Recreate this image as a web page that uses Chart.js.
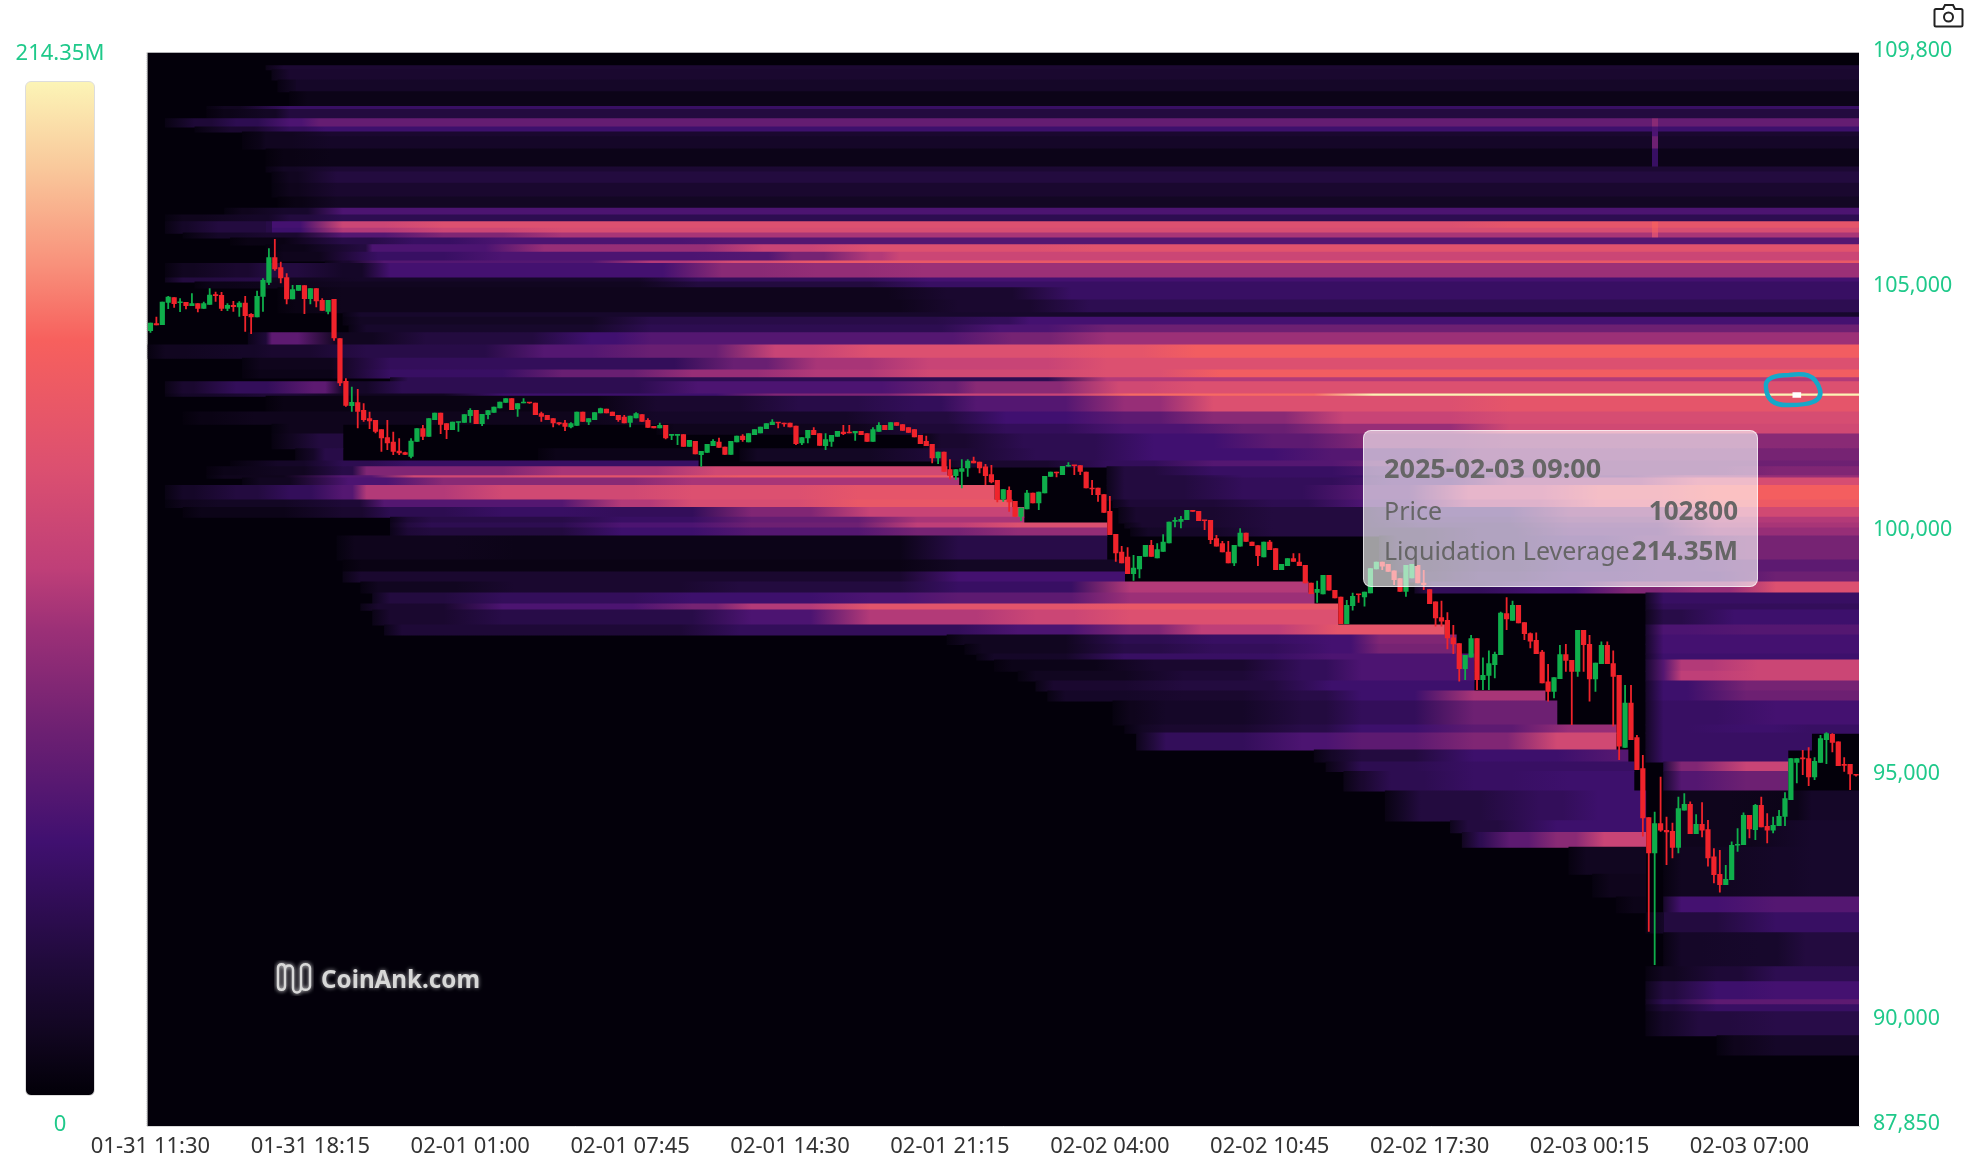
<!DOCTYPE html>
<html><head><meta charset="utf-8">
<style>
html,body{margin:0;padding:0;background:#fff;width:1968px;height:1167px;overflow:hidden;font-family:"Noto Sans",sans-serif}
#wrap{position:relative;width:1968px;height:1167px}
canvas{position:absolute;left:0;top:0}
.abs{position:absolute;white-space:nowrap}
.scaleText{color:#1fc98a;font-size:22px;line-height:24px;text-align:center;width:120px;left:0}
#colorbar{position:absolute;left:25px;top:81px;width:70px;height:1015px;border-radius:6px;border:0.5px solid #ddd;box-sizing:border-box}
#tip{position:absolute;left:1363px;top:430px;width:395px;height:157px;box-sizing:border-box;border-radius:8px;background:rgba(255,255,255,.62);border:1.5px solid rgba(255,255,255,.65);color:#666;font-size:25px}
#tip div{position:absolute;left:20px;right:19px;display:flex;justify-content:space-between;line-height:30px}
#tip b{font-weight:700;font-size:26px}
#tip b.d{font-size:27px}
#mark{left:321px;top:962px;color:#d8d8d8;font:700 24.2px "Noto Sans",sans-serif;text-shadow:0 0 4px rgba(255,255,255,.6)}
</style></head><body>
<div id="wrap">
<canvas id="c" width="1968" height="1167"></canvas>
<div class="abs scaleText" style="top:39px">214.35M</div>
<div id="colorbar"></div>
<div class="abs scaleText" style="top:1110px">0</div>
<div id="mark" class="abs">CoinAnk.com</div>
<svg class="abs" style="left:274px;top:960px" width="40" height="36" viewBox="0 0 40 36"><path d="M4 8c0-5 7-5 7 0v18c0 5-7 5-7 0zM11 10c0-6 8-6 8 0v18c0 6 8 6 8 0V8c0-5 9-5 9 0v18c0 5-9 5-9 0" fill="none" stroke="#d8d8d8" stroke-width="2.4" style="filter:drop-shadow(0 0 2px #fff)"/></svg>
<svg class="abs" style="left:1750px;top:360px" width="90" height="60" viewBox="1750 360 90 60"><path d="M1766 388C1764 378 1775 375 1789 375C1803 373 1815 373 1820 390C1823 402 1808 405 1790 405C1775 406 1767 400 1766 388Z" fill="none" stroke="#16a8c9" stroke-width="4.5"/></svg>
<svg class="abs" style="left:1933px;top:1px" width="31" height="28" viewBox="0 0 31 28"><path d="M3 8h7l2-4h8l2 4h6q1.500 0 1.500 1.500V24q0 1.500-1.500 1.500H3Q1.500 25.500 1.500 24V9.500Q1.500 8 3 8z" fill="none" stroke="#222" stroke-width="2"/><circle cx="15.500" cy="16" r="4.500" fill="none" stroke="#222" stroke-width="2"/></svg>
<div id="tip">
<div style="top:22px"><b class="d">2025-02-03 09:00</b></div>
<div style="top:64px"><span>Price</span><b>102800</b></div>
<div style="top:104px"><span>Liquidation Leverage</span><b>214.35M</b></div>
</div>
</div>
<script src="https://cdn.jsdelivr.net/npm/chart.js@4/dist/chart.umd.js"></script>
<script>
const tickCols=[0,27,54,81,108,135,162,189,216,243,270];
const tickLabels=['01-31 11:30','01-31 18:15','02-01 01:00','02-01 07:45','02-01 14:30','02-01 21:15','02-02 04:00','02-02 10:45','02-02 17:30','02-03 00:15','02-03 07:00'];
const priceTicks=[87850,90000,95000,100000,105000,109800];
const priceMin=87850, priceMax=109800, colCount=289;
const currentPoint={col:278,price:102800};

// open, high, low, close of each 15 minute candle
const ohlc=[
[104108,104279,104074,104279],[104265,104402,104224,104224],[104231,104708,104231,104708],[104688,104824,104558,104811],[104797,104797,104586,104661],[104681,104777,104497,104701],[104701,104701,104552,104620],[104620,104879,104620,104674],[104674,104674,104490,104565],[104565,104708,104565,104674],
[104647,104981,104647,104851],[104858,104913,104708,104824],[104845,104906,104517,104565],[104565,104674,104517,104640],[104640,104722,104504,104599],[104592,104715,104402,104688],[104688,104824,104095,104415],[104456,104470,104047,104388],[104388,104933,104388,104824],[104811,105185,104504,105151],
[105097,105799,105049,105615],[105615,105990,105342,105370],[105410,105526,105083,105185],[105206,105288,104654,104756],[104756,105049,104756,104961],[104933,105049,104933,105049],[105042,105042,104456,104763],[104763,104981,104654,104981],[104981,104981,104592,104715],[104742,104776,104524,104524],
[104504,104742,104449,104742],[104763,104763,103911,103958],[103958,103958,102984,103038],[103086,103140,102561,102581],[102575,102970,102459,102656],[102650,102922,102118,102459],[102493,102629,102254,102288],[102322,102459,102104,102261],[102288,102288,102015,102050],[102097,102097,101641,101913],
[101934,102288,101675,101811],[101845,102050,101572,101641],[101661,101913,101572,101607],[101627,101641,101572,101579],[101538,101913,101504,101866],[101845,102118,101845,102118],[102118,102186,101879,101947],[101947,102322,101947,102322],[102288,102438,102288,102438],[102438,102438,102002,102193],
[102220,102220,101900,102084],[102084,102254,102084,102254],[102234,102254,102050,102254],[102234,102404,102234,102404],[102370,102527,102234,102493],[102493,102493,102206,102206],[102206,102411,102166,102411],[102390,102486,102302,102486],[102438,102561,102438,102561],[102527,102663,102527,102663],
[102643,102731,102643,102731],[102731,102731,102493,102493],[102506,102629,102356,102629],[102629,102731,102629,102643],[102650,102650,102620,102629],[102643,102643,102390,102390],[102425,102459,102254,102356],[102391,102391,102288,102288],[102322,102322,102138,102220],[102241,102241,102180,102200],
[102234,102288,102063,102152],[102138,102241,102120,102220],[102173,102459,102173,102459],[102459,102459,102254,102254],[102241,102322,102186,102322],[102288,102445,102288,102445],[102425,102541,102425,102527],[102520,102520,102425,102425],[102459,102459,102370,102370],[102391,102391,102254,102288],
[102357,102391,102220,102220],[102234,102377,102138,102377],[102322,102445,102322,102425],[102404,102404,102254,102254],[102288,102322,102132,102132],[102166,102166,102118,102118],[102118,102234,102118,102186],[102186,102186,101893,101914],[101968,102002,101880,102002],[101968,102002,101777,102002],
[101995,101995,101743,101743],[101743,101879,101743,101879],[101859,101859,101586,101586],[101573,101654,101334,101654],[101620,101798,101620,101798],[101757,101893,101757,101859],[101845,101927,101723,101723],[101743,101743,101579,101579],[101579,101859,101579,101859],[101832,101968,101832,101968],
[101968,101995,101845,101879],[101832,102016,101832,102016],[101982,102098,101982,102098],[102016,102152,102016,102152],[102104,102220,102104,102220],[102186,102302,102186,102254],[102248,102248,102118,102220],[102234,102234,102152,102200],[102234,102234,102138,102138],[102173,102173,101777,101798],
[101811,101934,101777,101934],[101914,102084,101811,102084],[102084,102138,101982,101982],[102016,102016,101763,101763],[101757,102016,101675,101893],[101845,101982,101743,101982],[101948,102063,101948,102063],[102050,102186,101982,102002],[102036,102186,102016,102016],[102016,102063,101866,102063],
[102063,102063,101982,101982],[102016,102016,101845,101845],[101845,102139,101845,102098],[102050,102241,102050,102186],[102186,102186,102084,102084],[102084,102241,102084,102241],[102241,102241,102173,102173],[102200,102200,102070,102070],[102138,102138,102029,102029],[102098,102098,101934,101934],
[101982,101982,101798,101798],[101859,101968,101757,101757],[101798,101798,101402,101504],[101504,101641,101388,101641],[101641,101641,101232,101232],[101279,101484,101075,101143],[101143,101279,101061,101279],[101232,101485,100892,101301],[101301,101485,101130,101457],[101457,101539,101403,101403],
[101437,101437,101198,101301],[101335,101389,100960,101144],[101178,101369,100994,101014],[101062,101062,100605,100653],[100667,100871,100619,100871],[100857,100926,100414,100605],[100632,100632,100312,100312],[100312,100496,100223,100496],[100462,100857,100462,100803],[100803,100803,100585,100585],
[100585,100823,100448,100823],[100789,101144,100789,101144],[101130,101232,101130,101232],[101232,101232,101116,101198],[101164,101348,101164,101348],[101335,101423,101335,101369],[101369,101369,101164,101348],[101362,101362,101164,101232],[101232,101232,100892,100892],[100905,101062,100755,100871],
[100905,100905,100619,100755],[100769,100769,100394,100394],[100428,100735,99937,99937],[99958,99958,99392,99562],[99596,99712,99358,99358],[99494,99685,99140,99140],[99140,99528,99003,99269],[99235,99508,99051,99508],[99494,99733,99494,99733],[99733,99835,99494,99494],
[99460,99767,99460,99644],[99596,99951,99596,99801],[99767,100210,99767,100210],[100210,100298,100094,100244],[100210,100326,100073,100264],[100244,100448,100244,100448],[100448,100448,100414,100414],[100428,100428,100223,100223],[100244,100244,100039,100223],[100244,100244,99753,99835],
[99869,99937,99699,99699],[99767,99814,99583,99583],[99596,99814,99358,99358],[99358,99733,99303,99733],[99699,100073,99699,99985],[99985,99985,99801,99801],[99801,99801,99712,99712],[99726,99726,99303,99508],[99480,99801,99480,99801],[99801,99835,99630,99630],
[99664,99664,99221,99221],[99221,99344,99221,99344],[99303,99460,99303,99460],[99460,99562,99392,99392],[99392,99562,99303,99303],[99324,99324,98949,98949],[98962,98962,98730,98730],[98758,99003,98553,98833],[98724,99119,98724,99119],[99119,99119,98799,98799],
[98812,98812,98642,98642],[98676,98676,98117,98117],[98117,98608,98117,98506],[98485,98758,98390,98690],[98730,98730,98553,98710],[98662,98778,98472,98778],[98744,99256,98744,99256],[99235,99392,99235,99392],[99392,99392,99221,99290],[99344,99344,99187,99187],
[99208,99208,98915,99017],[99051,99051,98778,98778],[98778,99324,98676,99324],[99051,99344,99051,99344],[99324,99324,98949,98949],[98962,99221,98812,98915],[98826,98826,98526,98526],[98574,98574,98063,98233],[98253,98594,98063,98165],[98199,98356,97599,97824],
[97838,98097,97504,97701],[97722,97722,96938,97197],[97197,97483,96972,97483],[97429,97892,97429,97824],[97824,97824,96767,96972],[96972,97429,96767,97074],[97060,97572,96767,97313],[97279,97551,97006,97504],[97483,98369,97483,98349],[98335,98662,97994,98213],
[98185,98594,98185,98506],[98506,98506,98131,98131],[98151,98151,97790,97913],[97926,97940,97620,97756],[97790,97940,97504,97504],[97551,97585,96904,96904],[96938,97299,96529,96733],[96733,97026,96597,97026],[96992,97688,96992,97497],[97497,97708,97142,97367],
[97381,97381,96052,97142],[97142,97994,97040,97994],[97994,97994,97142,97688],[97708,97892,96529,96985],[96985,97326,96733,97326],[97299,97756,97299,97688],[97688,97756,97299,97299],[97313,97572,96018,97040],[97074,97074,95336,95609],[95588,96870,95588,96508],
[96508,96870,95745,95745],[95800,95847,95131,95131],[95166,95438,93768,94143],[94163,94163,91825,93427],[93427,94279,91143,94041],[94041,94995,93870,93891],[93904,94177,93188,93857],[93884,94054,93325,93543],[93543,94586,93427,94347],[94300,94654,94300,94436],
[94436,94484,93823,93823],[93823,94225,93823,94027],[94027,94470,93754,93891],[93918,94109,93155,93325],[93359,93529,92814,92984],[93004,93495,92623,92780],[92780,93189,92780,92902],[92882,93666,92882,93598],[93584,93938,93461,93618],[93598,94259,93598,94211],
[94211,94211,93734,93918],[93904,94436,93700,94416],[94416,94586,93959,93959],[93986,94245,93632,93891],[93891,94177,93836,94007],[93986,94313,93986,94191],[94177,94675,93986,94552],[94518,95370,94518,95370],[95281,95370,94859,95370],[95384,95540,95029,95350],
[95370,95595,94804,94981],[94981,95390,94927,95315],[95281,95847,95281,95779],[95745,95902,95254,95881],[95868,95881,95493,95690],[95711,95711,95213,95213],[95254,95390,95097,95220],[95254,95254,94722,95043],[95043,95043,95000,95016]
];

// heat bands: the price at the top of each band ...
const heatTops=[109530,109450,109240,109000,108700,108640,108450,108280,108180,108080,107830,107460,107360,107130,106850,106620,106480,106340,106210,106110,106010,105870,105720,105540,105490,105190,105110,104990,104740,104480,104390,104230,104070,103820,103550,103310,103150,103070,102820,102775,102450,102200,102000,101700,101450,101330,101150,101100,100950,100650,100500,100300,100180,100080,99916,99426,99180,98975,98750,98525,98400,98095,97890,97700,97500,97380,97150,96950,96745,96540,96050,95885,95540,95295,95100,94700,94090,93850,93550,93000,92535,92210,91800,91105,90800,90430,90330,90185,89695,89305];
// ... and, per band, pairs of [first column, heat in % of the 214.35M maximum]
const heatSegments=[
[20,11],[21,10],[22,7,24,8],[24,4],[10,6,24,22],[10,4,20,7,24,14],
[3,8,8,12,15,18,24,28,29,34,254,42,255,34],[8,6,14,10,24,20,30,24,254,28,255,24],[16,4,20,6,31,10,254,28,255,10],[16,4,20,6,31,8,254,36,255,8],[20,3,31,4,254,22,255,4],
[20,7,32,11],[21,6,32,14],[21,5,32,10],[22,3,32,7],[13,5,23,9,33,28],[3,5,18,8,24,14,33,18],
[3,8,12,14,20,16,21,26,33,56,50,62,230,66,254,72,255,66],[3,8,12,14,20,16,21,24,33,50,50,56,70,60,254,68,255,60],[6,5,12,8,20,10,33,30,50,40,70,48,254,60,255,48],
[14,3,33,16,45,22,60,28,100,30],[20,4,36,14,38,28,67,45,104,55,122,62,160,64],[20,5,39,22,60,28,102,30,109,38,122,50,127,56],[30,10,40,30,85,50,99,60,113,68],
[3,6,15,10,20,14,33,8,41,26,97,42,113,44,131,46],[3,14,19,16,21,6,36,8,93,20,132,26],[8,4,21,5,33,6,93,14,132,22],[22,3,33,5,135,10,156,22],[22,3,33,5,137,10,159,18],[33,9],
[33,7,85,16,143,20,149,26],[34,9,85,18,144,28,162,36],[17,12,21,32,32,6,47,14,75,25,85,30,146,38,162,46],[0,6,16,8,21,10,37,16,67,30,85,35,106,55,122,62,162,66,177,72],
[16,5,41,20,99,35,113,48,132,55,162,62],[16,4,41,22,70,35,92,45,113,50,132,58,162,62,181,72],[41,18,162,50],[3,10,15,20,28,32,33,8,43,18,93,28,134,35,140,42,164,58,177,62],
[3,8,20,12,33,6,60,24,106,40,135,55,166,76,207,100],[20,3,86,10,110,16,130,20,140,30,165,45,180,62,230,66],[6,3,18,5,86,8,128,14,145,25,165,32,180,42,202,55,230,60],
[21,5,33,0,86,5,130,12,145,20,165,28,185,35,202,45,230,58],[21,6,29,14,33,0,131,10,148,18,170,25,190,32,205,40,230,42],[25,8,30,16,33,0,66,4,93,0,100,7,132,12,150,18,170,25,200,30,225,38],
[14,4,22,8,33,18,44,22,93,0,134,10,162,20,180,30,210,36],[10,4,22,6,33,16,37,40,70,48,96,58,135,0,162,14,180,22,210,30,230,36,275,40],
[10,5,33,30,45,58,70,65,100,70,136,0,162,14,185,22,215,32,260,45],[16,6,34,28,50,42,92,48,137,0,162,14,185,20,210,28,230,45,262,60],
[3,8,15,14,24,20,33,30,37,50,60,58,92,62,120,66,143,0,162,14,185,20,205,30,223,52,245,65,265,73],[3,5,12,7,33,12,40,30,80,50,92,60,120,68,146,0,163,12,190,18,205,28,223,48,245,62,265,70],
[6,4,33,10,41,18,60,22,80,20,102,40,122,55,148,0,164,10,190,14,215,24,240,40,265,58],[41,12,48,16,80,22,102,34,130,48,148,0,164,10,190,14,215,22,240,36,265,50],
[41,14,48,18,80,28,102,36,130,52,147,62,162,0,165,10,190,14,215,20,240,32,265,48],[41,12,48,14,80,24,102,30,130,38,147,44,162,0,166,8,190,14,225,20,240,30,265,45],
[32,5,62,4,137,16,162,0,208,14,225,20,240,26,253,32,270,38],[33,3,62,3,137,7,165,0,210,12,225,18,240,24,255,28,270,32],[33,10,62,10,137,26,165,0,212,14,225,20,240,26,255,28,275,36],
[36,6,62,10,100,14,137,22,166,50,196,0,214,20,235,26,250,40,262,45,275,62],[38,14,60,20,92,24,122,28,137,32,166,46,197,0,253,22],[36,10,60,28,92,38,102,50,122,65,166,68,201,0,253,20],
[38,10,60,16,102,28,122,50,150,56,166,62,201,0,253,16,268,24],[40,12,100,20,147,28,166,40,178,52,201,66,219,0,253,28,270,30],[135,6,165,18,180,22,200,26,208,40,221,0,253,26],[138,6,165,16,180,20,200,26,208,38,221,0,253,26],
[140,8,165,22,200,28,224,0,253,24],[143,4,170,10,195,20,205,28,224,0,253,30,259,50,272,56],[147,6,175,12,195,20,205,28,224,0,253,30,259,52,272,56],[150,10,175,14,200,24,224,0,253,24,270,38],
[152,8,175,10,195,16,205,24,224,48,236,0,253,24,270,36],[163,5,172,8,195,14,205,20,224,36,238,0,253,22,275,26],[165,7,172,10,195,16,205,24,224,32,240,45,248,0,253,22,270,24,281,22],
[167,14,172,20,195,28,205,32,224,40,238,58,248,0,253,22,281,0],[197,8,205,14,224,24,248,30,250,0,253,22,277,0],[199,10,205,18,224,22,251,0,256,40,270,55,277,0],[202,10,210,18,224,22,240,24,251,0,256,30,270,36,277,0],
[209,8,215,14,235,20,245,24,253,0,256,5,277,4,281,8],[220,14,238,24,253,0,256,5,281,9],[222,18,230,32,238,42,246,55,253,0,256,5,281,9],[240,6,253,0,256,6,275,8,281,9],[244,5,253,0,256,6,275,8,281,9],[248,4,253,0,256,26,275,30],[253,8,256,14,275,22],
[256,8,272,9,280,14],[253,6,265,12,275,18],[253,14,265,24,275,26],[253,18,265,32],[253,12,265,22],[253,8,262,14,275,16],[265,5,275,8]
];
// colour scale stops: [% of the maximum, colour]
const colorStops=[[0,'#020008'],[6,'#110620'],[13,'#200a3b'],[25,'#401070'],[36,'#6d2072'],[46,'#9c3077'],[52,'#bf3f78'],[62,'#dc5070'],[74.500,'#f7605d'],[82,'#f8917b'],[91.500,'#f9c89b'],[100,'#fcf4b6']];

const plot={left:147.5,top:52.7,right:1859,bottom:1126};
const pxPerPrice=(plot.bottom-plot.top)/(priceMax-priceMin);
const rgb=h=>[1,3,5].map(i=>parseInt(h.substr(i,2),16));
function heatColor(v){
  for(let i=1;i<colorStops.length;i++){
    if(v<=colorStops[i][0]){
      const [a,ca]=colorStops[i-1],[b,cb]=colorStops[i];
      const t=(v-a)/(b-a),A=rgb(ca),B=rgb(cb);
      return 'rgb('+A.map((x,k)=>Math.round(x+(B[k]-x)*t)).join(',')+')';
    }
  }
  return colorStops[colorStops.length-1][1];
}
document.getElementById('colorbar').style.background='linear-gradient(to top,'+colorStops.map(s=>s[1]+' '+s[0]+'%').join(',')+')';

// paint of one band: a left-to-right gradient through its levels, soft between levels, hard where the price swept the band away
const canvasCtx=document.getElementById('c').getContext('2d');
function bandPaint(segs){
  const g=canvasCtx.createLinearGradient(plot.left,0,plot.right,0);
  let last=0;
  const stop=(c,col)=>{const o=Math.max(last,Math.min(1,c/colCount));g.addColorStop(o,col);last=o;};
  for(let i=0;i<segs.length;i+=2){
    const s=segs[i],L=segs[i+1],prevS=i?segs[i-2]:0,prevL=i?segs[i-1]:0,next=i+2<segs.length?segs[i+2]:colCount;
    if(!i||!prevL){ if(L){stop(s,heatColor(L*.35));stop(s+3,heatColor(L));} }
    else if(!L){ stop(s,heatColor(prevL)); }
    else if(s-prevS<=1||next-s<=1){ stop(s,heatColor(prevL));stop(s,heatColor(L)); }
    else { stop(s-Math.min(10,(s-prevS)*.6),heatColor(prevL));stop(s,heatColor(L)); }
  }
  return g;
}
const datasets=[];
heatSegments.forEach((segs,r)=>{
  const top=heatTops[r],bottom=r+1<heatTops.length?heatTops[r+1]:top-390,data=[];
  let runStart=null;
  for(let i=0;i<segs.length;i+=2){
    if(segs[i+1]&&runStart===null)runStart=segs[i];
    const end=i+2<segs.length?segs[i+2]:colCount;
    if(segs[i+1]&&end===colCount){data.push({x:[runStart-0.5,end-0.5],y:(top+bottom)/2});runStart=null;}
    else if(!segs[i+1]&&runStart!==null){data.push({x:[runStart-0.5,segs[i]-0.5],y:(top+bottom)/2});runStart=null;}
  }
  datasets.push({indexAxis:'y',data,backgroundColor:bandPaint(segs),barThickness:(top-bottom)*pxPerPrice+0.4,grouped:false,order:1000-r});
});
const UP='#0fae4b',DOWN='#f0232b';
const colour=c=>c[3]>=c[0]?UP:DOWN;
datasets.push({data:ohlc.map((c,i)=>({x:i,y:[c[2],c[1]]})),backgroundColor:ohlc.map(colour),barThickness:1.8,grouped:false,order:3,inflateAmount:0});
datasets.push({data:ohlc.map((c,i)=>({x:i,y:[c[0],c[3]]})),backgroundColor:ohlc.map(colour),barThickness:5.2,minBarLength:1.5,grouped:false,order:2,inflateAmount:0});
datasets.push({data:[{x:currentPoint.col,y:[currentPoint.price-50,currentPoint.price+50]}],backgroundColor:'#ffffff',barThickness:8,grouped:false,order:1});

const bg={id:'bg',
  beforeDatasetsDraw(ch){const a=ch.chartArea,x=ch.ctx;x.save();x.fillStyle='#03000a';x.fillRect(a.left,a.top,a.right-a.left,a.bottom-a.top);x.restore();},
  afterDatasetsDraw(ch){const a=ch.chartArea,x=ch.ctx;x.save();x.strokeStyle='#999';x.lineWidth=1;x.setLineDash([1,1]);x.beginPath();x.moveTo(a.left-.5,a.top);x.lineTo(a.left-.5,a.bottom);x.stroke();x.restore();}};
new Chart(document.getElementById('c'),{
  type:'bar',
  data:{datasets},
  plugins:[bg],
  options:{
    responsive:false,animation:false,events:[],
    layout:{padding:{left:plot.left,top:plot.top,right:0,bottom:0}},
    plugins:{legend:{display:false},tooltip:{enabled:false}},
    scales:{
      x:{type:'linear',min:-0.5,max:colCount-0.5,offset:false,
        grid:{display:false,drawTicks:false},border:{display:true,color:'#d8d8d8'},
        afterBuildTicks(s){s.ticks=tickCols.map(v=>({value:v}));},
        afterFit(s){s.height=1167-plot.bottom;},
        ticks:{autoSkip:false,maxRotation:0,padding:8,color:'#333',font:{family:'"Noto Sans"',size:22},callback:v=>tickLabels[tickCols.indexOf(v)]}},
      y:{type:'linear',position:'right',min:priceMin,max:priceMax,offset:false,beginAtZero:false,
        grid:{display:false,drawTicks:false},border:{display:false},
        afterBuildTicks(s){s.ticks=priceTicks.map(v=>({value:v}));},
        afterFit(s){s.width=1968-plot.right;},
        ticks:{autoSkip:false,padding:14,labelOffset:-2,color:'#1fc98a',font:{family:'"Noto Sans"',size:21.4},callback:v=>v.toLocaleString('en-US')}}
    }
  }
});
</script>
</body></html>
